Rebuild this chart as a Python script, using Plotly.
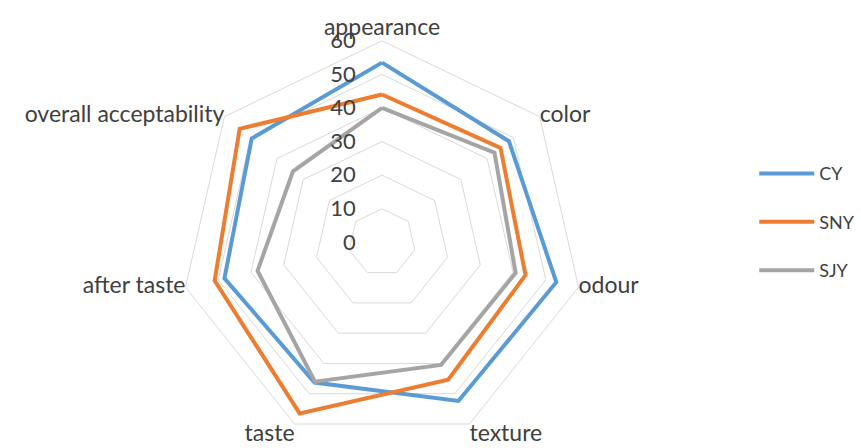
import plotly.graph_objects as go

categories = ["appearance", "color", "odour", "texture", "taste", "after taste", "overall acceptability"]
series_names = ["CY", "SNY", "SJY"]
cy = [53.5, 48.3, 53.2, 52.4, 46.3, 48.1, 49.6]
sny = [44, 45.1, 43.8, 45.4, 56.5, 51.1, 54.2]
sjy = [40, 42.8, 40.8, 40.5, 46.0, 38.0, 33.9]
colors = ["#5B9BD5", "#ED7D31", "#A5A5A5"]
radial_ticks = [0, 10, 20, 30, 40, 50, 60]
r_max = 60
label_positions = ["top center", "middle right", "middle right", "bottom right",
                   "bottom left", "middle left", "middle left"]

fig = go.Figure()
for name, vals, col in zip(series_names, [cy, sny, sjy], colors):
    fig.add_trace(go.Scatterpolar(
        r=vals + vals[:1],
        theta=categories + categories[:1],
        mode="lines",
        name=name,
        legendgroup=name,
        line=dict(color=col, width=4),
    ))

# category labels drawn as text at the outer ring
fig.add_trace(go.Scatterpolar(
    r=[r_max] * len(categories),
    theta=categories,
    mode="text",
    text=categories,
    textposition=label_positions,
    textfont=dict(family="Lato, Open Sans, sans-serif", size=23, color="#404040"),
    showlegend=False,
    hoverinfo="skip",
    cliponaxis=False,
))

fig.update_layout(
    width=861, height=448,
    margin=dict(l=0, r=0, t=0, b=0),
    paper_bgcolor="white",
    plot_bgcolor="white",
    font=dict(family="Lato, Open Sans, sans-serif", size=22, color="#404040"),
    polar=dict(
        domain=dict(x=[0.2091, 0.6783], y=[0.009, 0.909]),
        bgcolor="white",
        gridshape="linear",
        radialaxis=dict(
            range=[0, r_max], tickvals=radial_ticks, angle=90, tickangle=90,
            showline=False, ticks="outside", ticklen=18, tickcolor="rgba(0,0,0,0)",
            gridcolor="#D9D9D9", gridwidth=1,
            tickfont=dict(size=22, color="#404040"),
            side="counterclockwise",
        ),
        angularaxis=dict(
            rotation=90, direction="clockwise", showgrid=False,
            showline=True, linecolor="#D9D9D9", linewidth=1, ticks="",
            showticklabels=False,
        ),
    ),
    legend=dict(
        x=0.876, y=0.504, xanchor="left", yanchor="middle",
        traceorder="grouped", tracegroupgap=22, itemwidth=55,
        font=dict(size=18, color="#404040"),
        bgcolor="rgba(0,0,0,0)",
    ),
    showlegend=True,
)

fig.write_html("out.html")
